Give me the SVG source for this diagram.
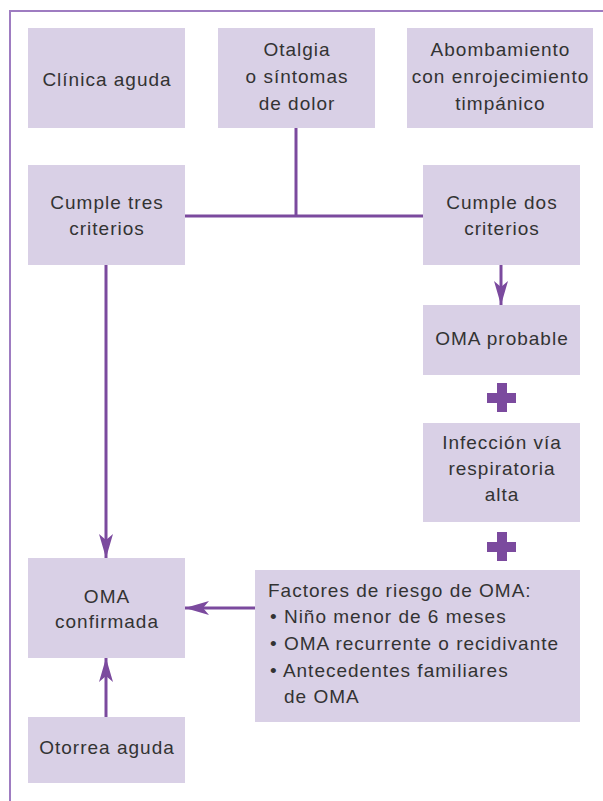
<svg xmlns="http://www.w3.org/2000/svg" width="603" height="801" viewBox="0 0 603 801">
<style>
.box{fill:#d9d0e6;}
.t{font-family:"Liberation Sans",Arial,sans-serif;font-size:19px;fill:#333333;text-anchor:middle;letter-spacing:1px;}
.tl{font-family:"Liberation Sans",Arial,sans-serif;font-size:19px;fill:#333333;letter-spacing:1px;}
.ln{stroke:#7b4a9e;stroke-width:3;fill:none;}
.plus{fill:#7b4a9e;}
</style>
<defs>
<marker id="ah" markerUnits="userSpaceOnUse" markerWidth="24" markerHeight="14" refX="24" refY="7" orient="auto">
<path d="M0,0 L24,7 L0,14 L6,7 Z" fill="#7b4a9e"/>
</marker>
</defs>
<rect width="603" height="801" fill="#ffffff"/>
<path d="M10,801 V11 H603" stroke="#9e7cc1" stroke-width="2" fill="none"/>

<g id="connectors">
<path class="ln" d="M296,128 V216"/>
<path class="ln" d="M185,216 H423"/>
<path class="ln" d="M501,265 V305" marker-end="url(#ah)"/>
<path class="ln" d="M106,265 V558" marker-end="url(#ah)"/>
<path class="ln" d="M255,608 H185" marker-end="url(#ah)"/>
<path class="ln" d="M106,717 V658" marker-end="url(#ah)"/>
</g>

<g id="plus1"><path class="plus" d="M497,383 H507 V393 H516 V403 H507 V412 H497 V403 H487 V393 H497 Z"/></g>
<g id="plus2"><path class="plus" d="M497,532 H507 V542 H516 V552 H507 V561 H497 V552 H487 V542 H497 Z"/></g>

<g id="clinica"><rect class="box" x="28" y="28" width="157" height="100"/><text class="t" x="107" y="86">Clínica aguda</text></g>
<g id="otalgia"><rect class="box" x="218" y="28" width="157" height="100"/><text class="t" x="297" y="56">Otalgia</text><text class="t" x="297" y="83">o síntomas</text><text class="t" x="297" y="110">de dolor</text></g>
<g id="abombamiento"><rect class="box" x="407" y="28" width="186" height="100"/><text class="t" x="500.5" y="56">Abombamiento</text><text class="t" x="500.5" y="83">con enrojecimiento</text><text class="t" x="500.5" y="110">timpánico</text></g>
<g id="tres"><rect class="box" x="28" y="165" width="157" height="100"/><text class="t" x="107" y="209">Cumple tres</text><text class="t" x="107" y="235">criterios</text></g>
<g id="dos"><rect class="box" x="423" y="165" width="157" height="100"/><text class="t" x="502" y="209">Cumple dos</text><text class="t" x="502" y="235">criterios</text></g>
<g id="probable"><rect class="box" x="423" y="305" width="157" height="70"/><text class="t" x="502" y="345">OMA probable</text></g>
<g id="infeccion"><rect class="box" x="423" y="423" width="157" height="99"/><text class="t" x="502" y="449">Infección vía</text><text class="t" x="502" y="475">respiratoria</text><text class="t" x="502" y="501">alta</text></g>
<g id="confirmada"><rect class="box" x="28" y="558" width="157" height="100"/><text class="t" x="107" y="603">OMA</text><text class="t" x="107" y="628">confirmada</text></g>
<g id="factores"><rect class="box" x="255" y="570" width="325" height="152"/>
<text class="tl" x="268" y="597">Factores de riesgo de OMA:</text>
<text class="tl" x="270" y="623">• Niño menor de 6 meses</text>
<text class="tl" x="270" y="650">• OMA recurrente o recidivante</text>
<text class="tl" x="270" y="677">• Antecedentes familiares</text>
<text class="tl" x="284" y="703">de OMA</text>
</g>
<g id="otorrea"><rect class="box" x="28" y="717" width="157" height="66"/><text class="t" x="107" y="754">Otorrea aguda</text></g>
</svg>
